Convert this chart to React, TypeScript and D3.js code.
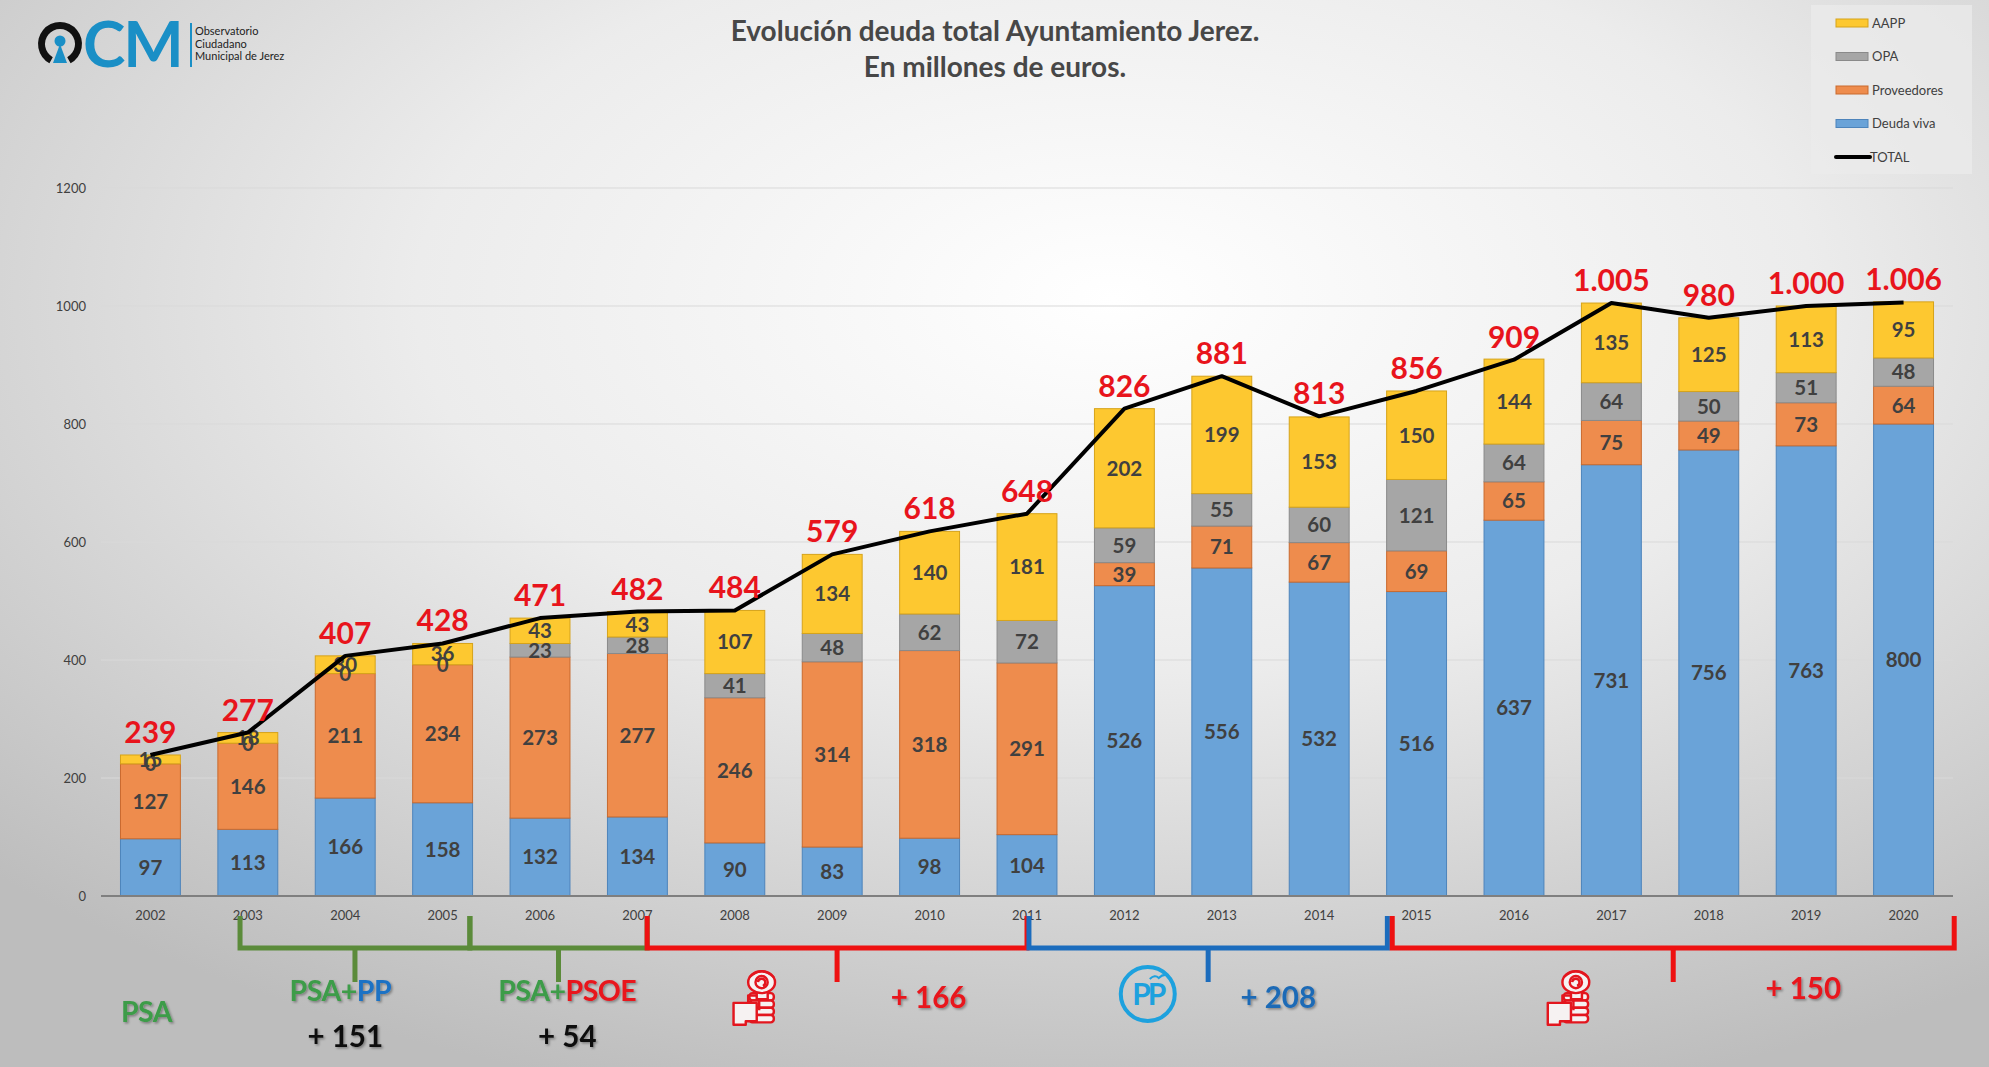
import { useEffect, useRef } from "react";
import * as d3 from "d3";

const W = 1989;
const H = 1067;

const years = [2002, 2003, 2004, 2005, 2006, 2007, 2008, 2009, 2010, 2011, 2012, 2013, 2014, 2015, 2016, 2017, 2018, 2019, 2020];
const deudaViva = [97, 113, 166, 158, 132, 134, 90, 83, 98, 104, 526, 556, 532, 516, 637, 731, 756, 763, 800];
const proveedores = [127, 146, 211, 234, 273, 277, 246, 314, 318, 291, 39, 71, 67, 69, 65, 75, 49, 73, 64];
const opa = [0, 0, 0, 0, 23, 28, 41, 48, 62, 72, 59, 55, 60, 121, 64, 64, 50, 51, 48];
const aapp = [15, 18, 30, 36, 43, 43, 107, 134, 140, 181, 202, 199, 153, 150, 144, 135, 125, 113, 95];
const totals = [239, 277, 407, 428, 471, 482, 484, 579, 618, 648, 826, 881, 813, 856, 909, 1005, 980, 1000, 1006];
const yTicks = [0, 200, 400, 600, 800, 1000, 1200];

const seriesKeys = ["viva", "prov", "opa", "aapp"];
const seriesNames = ["Deuda viva", "Proveedores", "OPA", "AAPP"];
const seriesFill = ["#6aa3d8", "#ee8c4d", "#a6a6a6", "#fdc830"];
const seriesStroke = ["#4d84bb", "#c96a2e", "#8a8a8a", "#d6a31a"];

const GREEN = "#3c9c48";
const BLUE = "#1f72c4";
const RED = "#e8141c";

// periods of government, positions given as (fractional) years
const periods = [
  { start: NaN, end: NaN, bracket: "", parts: [["PSA", GREEN]], labelAt: 2001.96, logo: "", logoAt: 0, delta: "", deltaColor: "", deltaAt: 0 },
  { start: 2002.92, end: 2005.28, bracket: "#5b8b3a", parts: [["PSA+", GREEN], ["PP", BLUE]], labelAt: 2003.95, logo: "", logoAt: 0, delta: "+ 151", deltaColor: "#111", deltaAt: 2004.0 },
  { start: 2005.28, end: 2007.1, bracket: "#5b8b3a", parts: [["PSA+", GREEN], ["PSOE", RED]], labelAt: 2006.28, logo: "", logoAt: 0, delta: "+ 54", deltaColor: "#111", deltaAt: 2006.28 },
  { start: 2007.1, end: 2011.0, bracket: "#ee1111", parts: [], labelAt: 0, logo: "psoe", logoAt: 2008.2, delta: "+ 166", deltaColor: RED, deltaAt: 2009.99 },
  { start: 2011.02, end: 2014.7, bracket: "#1b6cbd", parts: [], labelAt: 0, logo: "pp", logoAt: 2012.24, delta: "+ 208", deltaColor: "#1d6bb6", deltaAt: 2013.58 },
  { start: 2014.75, end: 2020.52, bracket: "#ee1111", parts: [], labelAt: 0, logo: "psoe", logoAt: 2016.56, delta: "+ 150", deltaColor: RED, deltaAt: 2018.97 },
];

const font = "Lato, 'Open Sans', sans-serif";
const esFormat = d3.formatLocale({ decimal: ",", thousands: ".", grouping: [3], currency: ["", "€"] }).format(",d");

type G = d3.Selection<SVGGElement, unknown, null, undefined>;

function drawPsoe(parent: G, cx: number, cy: number) {
  const g = parent.append("g").attr("transform", `translate(${cx},${cy}) scale(1.22)`)
    .attr("fill", "#f6f2f2").attr("stroke", "#e3161e").attr("stroke-width", 2).attr("stroke-linejoin", "round");
  // fingers
  [-4, 2, 8, 14].forEach((fy) => {
    g.append("rect").attr("x", -4).attr("y", fy).attr("width", 20).attr("height", 6).attr("rx", 2.5);
  });
  // thumb block
  g.append("path").attr("d", "M-17,4 H2 V19 H-7 V22 H-17 Z");
  g.append("path").attr("d", "M-5,4 V-2 H4 V10").attr("fill", "none");
  // stem
  g.append("rect").attr("x", 2).attr("y", -5).attr("width", 9).attr("height", 6);
  // rose
  g.append("ellipse").attr("cx", 6).attr("cy", -13).attr("rx", 11).attr("ry", 9);
  g.append("circle").attr("cx", 6).attr("cy", -13).attr("r", 5);
  g.append("path").attr("d", "M3,-13 a3,3 0 1 1 4,3").attr("fill", "none");
  g.append("path").attr("d", "M-4,-17 q5,-5 10,-5 q5,0 10,5").attr("fill", "none");
}

function drawPP(parent: G, cx: number, cy: number) {
  const c = "#1da1de";
  const g = parent.append("g").attr("transform", `translate(${cx},${cy})`);
  g.append("circle").attr("r", 27).attr("fill", "none").attr("stroke", c).attr("stroke-width", 4);
  g.append("text").attr("y", 11).attr("text-anchor", "middle").attr("font-family", font)
    .attr("font-weight", 700).attr("font-size", 30).attr("letter-spacing", -3).attr("fill", c).text("PP");
  g.append("path").attr("d", "M2,-15 q5,-5 9,-1 q5,-5 10,-2").attr("fill", "none").attr("stroke", c).attr("stroke-width", 2);
}

export default function App() {
  const ref = useRef<SVGSVGElement | null>(null);

  useEffect(() => {
    document.body.style.margin = "0";
    document.body.style.overflow = "hidden";
    if (!ref.current) return;

    const svg = d3.select(ref.current);
    svg.selectAll("*").remove();

    const left = 101;
    const right = 1953;
    const bottom = 896;
    const top = 188;

    const x = d3.scaleBand<number>().domain(years).range([left, right]).paddingInner(0.385).paddingOuter(0.2);
    const bw = x.bandwidth();
    const cx = (yr: number) => (x(yr) ?? 0) + bw / 2;
    const y = d3.scaleLinear().domain([0, 1200]).range([bottom, top]);
    const yearX = d3.scaleLinear().domain([2002, 2020]).range([cx(2002), cx(2020)]);

    // MARK: background
    const defs = svg.append("defs");
    const grad = defs.append("radialGradient").attr("id", "bg").attr("cx", "56%").attr("cy", "28%").attr("r", "78%");
    grad.append("stop").attr("offset", "0%").attr("stop-color", "#ffffff");
    grad.append("stop").attr("offset", "45%").attr("stop-color", "#ececec");
    grad.append("stop").attr("offset", "100%").attr("stop-color", "#bdbdbd");
    const shadow = defs.append("filter").attr("id", "shadow").attr("x", "-20%").attr("y", "-20%").attr("width", "140%").attr("height", "140%");
    shadow.append("feDropShadow").attr("dx", 1.5).attr("dy", 1.5).attr("stdDeviation", 1.2)
      .attr("flood-color", "#000").attr("flood-opacity", 0.35);

    svg.append("rect").attr("width", W).attr("height", H).attr("fill", "url(#bg)");

    const root = svg.append("g");

    // MARK: logo
    const logo = root.append("g");
    logo.append("path")
      .attr("d", d3.arc()({ innerRadius: 15, outerRadius: 22, startAngle: Math.PI * 1.16, endAngle: Math.PI * 2.84 }) ?? "")
      .attr("transform", "translate(60,44)").attr("fill", "#111");
    logo.append("circle").attr("cx", 60).attr("cy", 41).attr("r", 5.5).attr("fill", "#1a8fc6");
    logo.append("path").attr("d", "M60,44 L53,63 H67 Z").attr("fill", "#1a8fc6");
    logo.append("text").attr("x", 83).attr("y", 67).attr("font-family", font).attr("font-weight", 700)
      .attr("font-size", 64).attr("letter-spacing", -2).attr("fill", "#1a8fc6").text("CM");
    logo.append("line").attr("x1", 191).attr("x2", 191).attr("y1", 23).attr("y2", 67).attr("stroke", "#1a8fc6").attr("stroke-width", 2);
    ["Observatorio", "Ciudadano", "Municipal de Jerez"].forEach((t, i) => {
      logo.append("text").attr("x", 195).attr("y", 35 + i * 12.5).attr("font-family", font)
        .attr("font-size", 11).attr("fill", "#222").text(t);
    });

    // MARK: title
    ["Evolución deuda total Ayuntamiento Jerez.", "En millones de euros."].forEach((t, i) => {
      root.append("text").attr("x", 995).attr("y", 41 + i * 36).attr("text-anchor", "middle")
        .attr("font-family", font).attr("font-weight", 700).attr("font-size", 28).attr("fill", "#474747").text(t);
    });

    // MARK: legend
    const legend = root.append("g");
    legend.append("rect").attr("x", 1811).attr("y", 5).attr("width", 161).attr("height", 169).attr("fill", "#ebebeb").attr("opacity", 0.75);
    const legendItems = [3, 2, 1, 0];
    legendItems.forEach((s, i) => {
      const ly = 23 + i * 33.5;
      legend.append("rect").attr("x", 1836).attr("y", ly - 4).attr("width", 32).attr("height", 8)
        .attr("fill", seriesFill[s]).attr("stroke", seriesStroke[s]).attr("stroke-width", 1);
      legend.append("text").attr("x", 1872).attr("y", ly).attr("dy", "0.35em").attr("font-family", font)
        .attr("font-size", 13).attr("fill", "#404040").text(seriesNames[s]);
    });
    legend.append("line").attr("x1", 1836).attr("x2", 1870).attr("y1", 157).attr("y2", 157)
      .attr("stroke", "#000").attr("stroke-width", 4).attr("stroke-linecap", "round");
    legend.append("text").attr("x", 1870).attr("y", 157).attr("dy", "0.35em").attr("font-family", font)
      .attr("font-size", 13).attr("fill", "#404040").text("TOTAL");

    // MARK: grid + y axis
    yTicks.forEach((t) => {
      if (t > 0) {
        root.append("line").attr("x1", left).attr("x2", right).attr("y1", y(t)).attr("y2", y(t))
          .attr("stroke", "#d9d9d9").attr("stroke-width", 1);
      }
      root.append("text").attr("x", 86).attr("y", y(t)).attr("dy", "0.35em").attr("text-anchor", "end")
        .attr("font-family", font).attr("font-size", 13).attr("fill", "#404040").text(String(t));
    });

    // MARK: stacked bars
    const rows = years.map((yr, i) => ({ year: yr, viva: deudaViva[i], prov: proveedores[i], opa: opa[i], aapp: aapp[i] }));
    const stacked = d3.stack<(typeof rows)[number]>().keys(seriesKeys)(rows);

    stacked.forEach((layer, s) => {
      layer.forEach((d) => {
        root.append("rect")
          .attr("x", x(d.data.year) ?? 0)
          .attr("y", y(d[1]))
          .attr("width", bw)
          .attr("height", Math.max(0, y(d[0]) - y(d[1])))
          .attr("fill", seriesFill[s])
          .attr("stroke", seriesStroke[s])
          .attr("stroke-width", 1);
      });
    });

    root.append("line").attr("x1", left).attr("x2", right).attr("y1", bottom).attr("y2", bottom)
      .attr("stroke", "#7f7f7f").attr("stroke-width", 2);

    // segment labels
    stacked.forEach((layer) => {
      layer.forEach((d) => {
        root.append("text")
          .attr("x", cx(d.data.year))
          .attr("y", y((d[0] + d[1]) / 2))
          .attr("dy", "0.36em")
          .attr("text-anchor", "middle")
          .attr("font-family", font)
          .attr("font-weight", 700)
          .attr("font-size", 20.5)
          .attr("fill", "#404040")
          .text(String(d[1] - d[0]));
      });
    });

    // MARK: total line
    const line = d3.line<number>().x((_, i) => cx(years[i])).y((d) => y(d));
    root.append("path").attr("d", line(totals) ?? "").attr("fill", "none")
      .attr("stroke", "#000").attr("stroke-width", 4).attr("stroke-linejoin", "round");

    totals.forEach((t, i) => {
      root.append("text").attr("x", cx(years[i])).attr("y", y(t) - 12).attr("text-anchor", "middle")
        .attr("font-family", font).attr("font-weight", 700).attr("font-size", 30).attr("fill", RED)
        .text(esFormat(t));
    });

    // x labels
    years.forEach((yr) => {
      root.append("text").attr("x", cx(yr)).attr("y", 915).attr("dy", "0.35em").attr("text-anchor", "middle")
        .attr("font-family", font).attr("font-size", 13).attr("fill", "#404040").text(String(yr));
    });

    // MARK: government periods
    const ann = root.append("g");
    periods.forEach((p) => {
      if (p.bracket) {
        const xs = yearX(p.start);
        const xe = yearX(p.end);
        const mid = (xs + xe) / 2;
        ann.append("path").attr("d", `M${xs},916 V948 H${xe} V916`).attr("fill", "none")
          .attr("stroke", p.bracket).attr("stroke-width", 5);
        ann.append("path").attr("d", `M${mid},948 V982`).attr("fill", "none")
          .attr("stroke", p.bracket).attr("stroke-width", 5);
      }
      if (p.parts.length) {
        const t = ann.append("text").attr("x", yearX(p.labelAt)).attr("y", p.delta ? 1001 : 1022)
          .attr("text-anchor", "middle").attr("font-family", font).attr("font-weight", 700)
          .attr("font-size", 28.5).attr("letter-spacing", -0.5).attr("filter", "url(#shadow)");
        p.parts.forEach(([txt, col]) => t.append("tspan").attr("fill", col).text(txt));
      }
      if (p.logo === "psoe") drawPsoe(ann, yearX(p.logoAt), 998);
      if (p.logo === "pp") drawPP(ann, yearX(p.logoAt), 994);
      if (p.delta) {
        const dy = p.deltaColor === "#111" ? 1047 : p.delta === "+ 150" ? 999 : 1008;
        ann.append("text").attr("x", yearX(p.deltaAt)).attr("y", dy).attr("text-anchor", "middle")
          .attr("font-family", font).attr("font-weight", 700).attr("font-size", 29.5)
          .attr("fill", p.deltaColor).attr("filter", "url(#shadow)").text(p.delta);
      }
    });
  }, []);

  return <svg ref={ref} width={W} height={H} style={{ display: "block" }} />;
}
